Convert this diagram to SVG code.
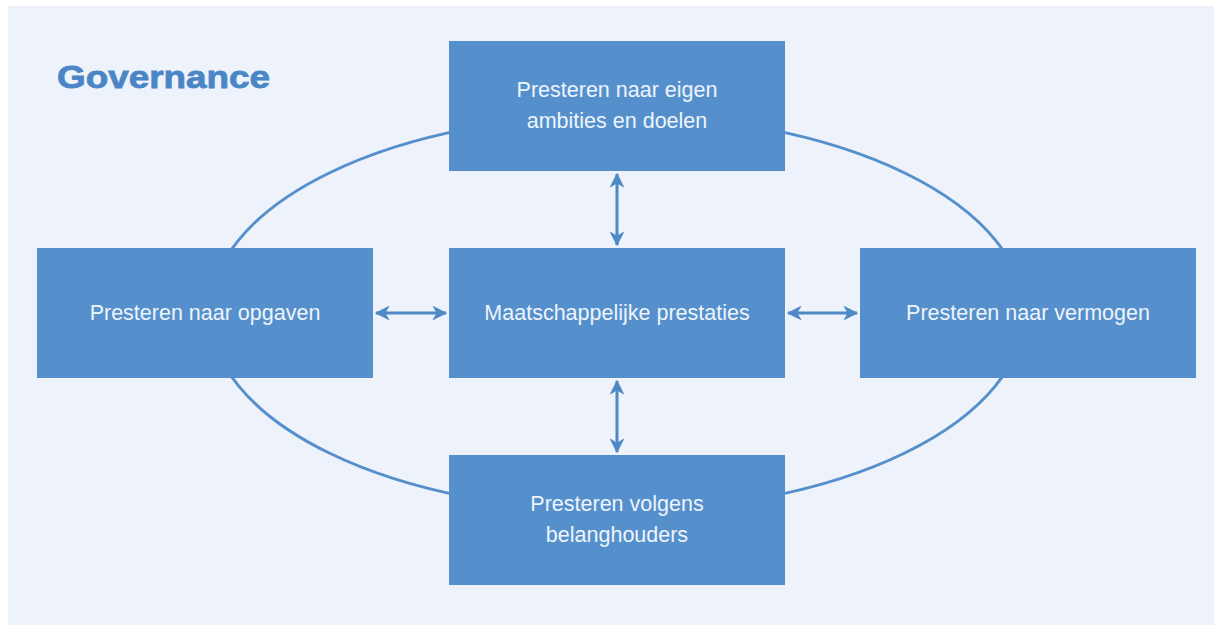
<svg xmlns="http://www.w3.org/2000/svg" width="1214" height="625" viewBox="0 0 1214 625">
<style>
.box{fill:#5590cc}
.lbl{font-family:"Liberation Sans",Arial,sans-serif;font-size:21.5px;fill:#eef4fc;text-anchor:middle}
.conn{stroke:#4f89c6;stroke-width:3;fill:none}
</style>
<defs>
<marker id="ah" viewBox="0 0 12 12" refX="11" refY="6" markerWidth="5" markerHeight="5" orient="auto-start-reverse" markerUnits="strokeWidth">
<path d="M0,0 L12,6 L0,12 L3.5,6 Z" fill="#4f89c6"/>
</marker>
</defs>
<rect x="0" y="0" width="1214" height="625" fill="#ffffff"/>
<rect x="8" y="6" width="1206" height="619" fill="#eef2fa"/>
<text id="title" x="57" y="88" font-family="'Liberation Sans',Arial,sans-serif" font-weight="900" font-size="32" fill="#4a86c5" stroke="#4a86c5" stroke-width="0.8" textLength="213" lengthAdjust="spacingAndGlyphs">Governance</text>
<g id="connectors">
<ellipse cx="617" cy="313" rx="407" ry="198" stroke="#5590cc" stroke-width="3" fill="none"/>
<line class="conn" x1="376" y1="313" x2="446" y2="313" marker-start="url(#ah)" marker-end="url(#ah)"/>
<line class="conn" x1="788" y1="313" x2="857" y2="313" marker-start="url(#ah)" marker-end="url(#ah)"/>
<line class="conn" x1="617" y1="174" x2="617" y2="245" marker-start="url(#ah)" marker-end="url(#ah)"/>
<line class="conn" x1="617" y1="381" x2="617" y2="452" marker-start="url(#ah)" marker-end="url(#ah)"/>
</g>
<g id="node-top">
<rect class="box" x="449" y="41" width="336" height="130"/>
<text class="lbl" x="617" y="97">Presteren naar eigen</text>
<text class="lbl" x="617" y="128">ambities en doelen</text>
</g>
<g id="node-left">
<rect class="box" x="37" y="248" width="336" height="130"/>
<text class="lbl" x="205" y="320">Presteren naar opgaven</text>
</g>
<g id="node-center">
<rect class="box" x="449" y="248" width="336" height="130"/>
<text class="lbl" x="617" y="320">Maatschappelijke prestaties</text>
</g>
<g id="node-right">
<rect class="box" x="860" y="248" width="336" height="130"/>
<text class="lbl" x="1028" y="320">Presteren naar vermogen</text>
</g>
<g id="node-bottom">
<rect class="box" x="449" y="455" width="336" height="130"/>
<text class="lbl" x="617" y="511">Presteren volgens</text>
<text class="lbl" x="617" y="542">belanghouders</text>
</g>
</svg>
